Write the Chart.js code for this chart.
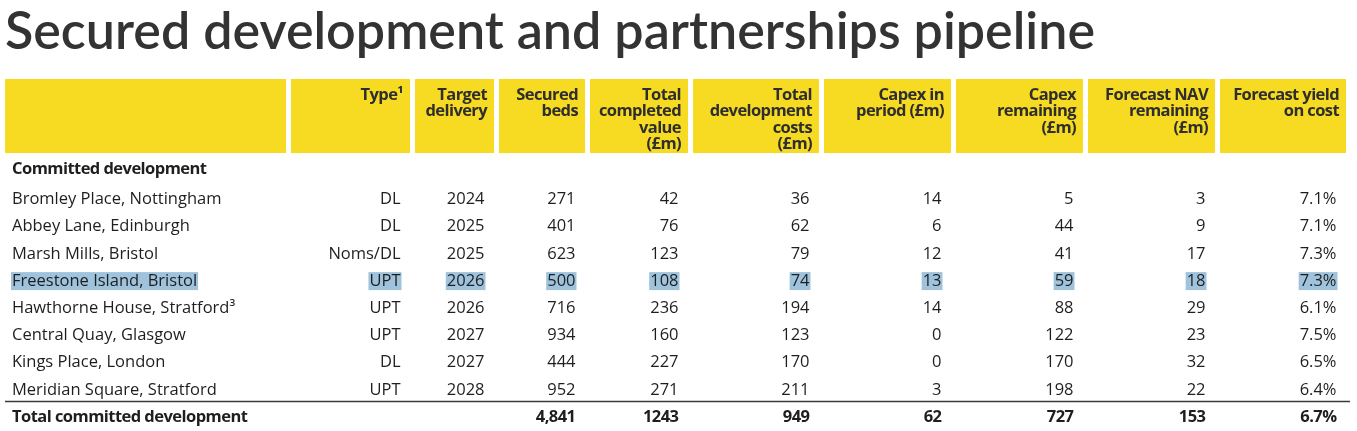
<!DOCTYPE html>
<html>
<head>
<meta charset="utf-8">
<script src="https://cdn.jsdelivr.net/npm/chart.js@4"></script>
<style>
  html, body { margin: 0; padding: 0; background: #fff; }
  #wrap { width: 1357px; height: 431px; position: relative; }
</style>
</head>
<body>
<div id="wrap"><canvas id="pipeline"></canvas></div>
<script>
const titleText = 'Secured development and partnerships pipeline';

const columnHeaders = [
  [],
  ['Type¹'],
  ['Target', 'delivery'],
  ['Secured', 'beds'],
  ['Total', 'completed', 'value', '(£m)'],
  ['Total', 'development', 'costs', '(£m)'],
  ['Capex in', 'period (£m)'],
  ['Capex', 'remaining', '(£m)'],
  ['Forecast NAV', 'remaining', '(£m)'],
  ['Forecast yield', 'on cost']
];

const sectionLabel = 'Committed development';
const totalLabel = 'Total committed development';

const projects = [
  'Bromley Place, Nottingham',
  'Abbey Lane, Edinburgh',
  'Marsh Mills, Bristol',
  'Freestone Island, Bristol',
  'Hawthorne House, Stratford³',
  'Central Quay, Glasgow',
  'Kings Place, London',
  'Meridian Square, Stratford'
];
const types = ['DL', 'DL', 'Noms/DL', 'UPT', 'UPT', 'UPT', 'DL', 'UPT'];
const deliveryYears = [2024, 2025, 2025, 2026, 2026, 2027, 2027, 2028];
const securedBeds = [271, 401, 623, 500, 716, 934, 444, 952];
const completedValue = [42, 76, 123, 108, 236, 160, 227, 271];
const developmentCosts = [36, 62, 79, 74, 194, 123, 170, 211];
const capexInPeriod = [14, 6, 12, 13, 14, 0, 0, 3];
const capexRemaining = [5, 44, 41, 59, 88, 122, 170, 198];
const navRemaining = [3, 9, 17, 18, 29, 23, 32, 22];
const yieldOnCost = [7.1, 7.1, 7.3, 7.3, 6.1, 7.5, 6.5, 6.4];

const totals = ['', '', '4,841', '1243', '949', '62', '727', '153', '6.7%'];

const highlightedProject = 'Freestone Island, Bristol';

// layout: column edges in x-scale units (1 unit = 1px)
const colLeft = [5, 291, 415, 499, 590, 693, 824, 956, 1088, 1220];
const colRight = [286, 410, 494, 585, 688, 819, 951, 1083, 1215, 1346];

const rowLabels = [sectionLabel, ...projects, totalLabel];

const YELLOW = '#f7da22';
const HILITE = '#9fc3dc';
const TEXT = '#1e1e1e';
const HEAD_TEXT = '#2e2e2e';
const BODY_FONT = '"Open Sans", sans-serif';

function cellText(col, row) {
  if (row === 0) return col === 0 ? sectionLabel : '';
  if (row === rowLabels.length - 1) return col === 0 ? totalLabel : totals[col - 1];
  const i = row - 1;
  switch (col) {
    case 0: return projects[i];
    case 1: return types[i];
    case 2: return String(deliveryYears[i]);
    case 3: return String(securedBeds[i]);
    case 4: return String(completedValue[i]);
    case 5: return String(developmentCosts[i]);
    case 6: return String(capexInPeriod[i]);
    case 7: return String(capexRemaining[i]);
    case 8: return String(navRemaining[i]);
    case 9: return yieldOnCost[i].toFixed(1) + '%';
    default: return '';
  }
}

// one scatter dataset per column, one point per row
const datasets = colLeft.map((left, c) => ({
  label: 'col' + c,
  data: rowLabels.map((label, r) => ({
    x: c === 0 ? left + 7 : colRight[c] - 9.5,
    y: label,
    text: cellText(c, r)
  })),
  pointRadius: 0,
  pointHoverRadius: 0
}));

function isBoldRow(r) {
  return r === 0 || r === rowLabels.length - 1;
}

function rowFont(r) {
  return `${isBoldRow(r) ? 700 : 400} 16.5px ${BODY_FONT}`;
}

const tablePlugin = {
  id: 'tablePlugin',
  beforeDatasetsDraw(chart) {
    const { ctx, chartArea, scales } = chart;
    const x = scales.x;
    const y = scales.y;

    // header boxes
    const headTop = chartArea.top - 78.7;
    const headBottom = chartArea.top - 4.7;
    ctx.save();
    ctx.fillStyle = YELLOW;
    colLeft.forEach((left, c) => {
      const l = x.getPixelForValue(left);
      const r = x.getPixelForValue(colRight[c]);
      ctx.fillRect(l, headTop, r - l, headBottom - headTop);
    });

    ctx.fillStyle = HEAD_TEXT;
    ctx.font = `700 16.5px ${BODY_FONT}`;
    ctx.letterSpacing = '-0.6px';
    ctx.textAlign = 'right';
    ctx.textBaseline = 'alphabetic';
    columnHeaders.forEach((lines, c) => {
      const rx = x.getPixelForValue(colRight[c]) - 7;
      lines.forEach((line, k) => {
        ctx.fillText(line, rx, headTop + 21 + k * 16.3);
      });
    });
    ctx.letterSpacing = '0px';

    // highlighted row
    const hr = rowLabels.indexOf(highlightedProject);
    ctx.fillStyle = HILITE;
    ctx.font = rowFont(hr);
    chart.data.datasets.forEach((ds, c) => {
      const el = chart.getDatasetMeta(c).data[hr];
      const t = ds.data[hr].text;
      if (!t) return;
      const w = ctx.measureText(t).width;
      const left = c === 0 ? el.x - 1 : el.x - w - 1;
      ctx.fillRect(left, el.y - 8, w + 2, 18);
    });

    // rule above total row
    const last = rowLabels.length - 1;
    const ly = (y.getPixelForValue(last) + y.getPixelForValue(last - 1)) / 2 - 1;
    ctx.strokeStyle = '#3a3a3a';
    ctx.lineWidth = 1.5;
    ctx.beginPath();
    ctx.moveTo(x.getPixelForValue(5), ly);
    ctx.lineTo(x.getPixelForValue(1350), ly);
    ctx.stroke();
    ctx.restore();
  },
  afterDatasetsDraw(chart) {
    const { ctx } = chart;
    ctx.save();
    ctx.fillStyle = TEXT;
    ctx.textBaseline = 'alphabetic';
    chart.data.datasets.forEach((ds, c) => {
      const meta = chart.getDatasetMeta(c);
      ctx.textAlign = c === 0 ? 'left' : 'right';
      meta.data.forEach((el, r) => {
        const t = ds.data[r].text;
        if (!t) return;
        ctx.font = rowFont(r);
        ctx.letterSpacing = isBoldRow(r) ? '-0.55px' : '0px';
        const shift = r === 0 ? -3 : 0;
        ctx.fillText(t, el.x, el.y + 5.7 + shift);
      });
    });
    ctx.letterSpacing = '0px';
    ctx.restore();
  }
};

const chart = new Chart(document.getElementById('pipeline'), {
  type: 'scatter',
  data: { datasets },
  plugins: [tablePlugin],
  options: {
    responsive: true,
    maintainAspectRatio: false,
    animation: false,
    events: [],
    layout: { padding: { left: 5, right: 0, top: 0, bottom: 1.3 } },
    plugins: {
      legend: { display: false },
      tooltip: { enabled: false },
      title: {
        display: true,
        text: titleText,
        align: 'start',
        color: '#333333',
        font: { family: 'Lato, sans-serif', size: 52, weight: 600 },
        padding: { top: 1, bottom: 94.3 }
      }
    },
    scales: {
      x: { type: 'linear', min: 5, max: 1357, display: false },
      y: { type: 'category', labels: rowLabels, offset: true, display: false }
    }
  }
});
</script>
</body>
</html>
